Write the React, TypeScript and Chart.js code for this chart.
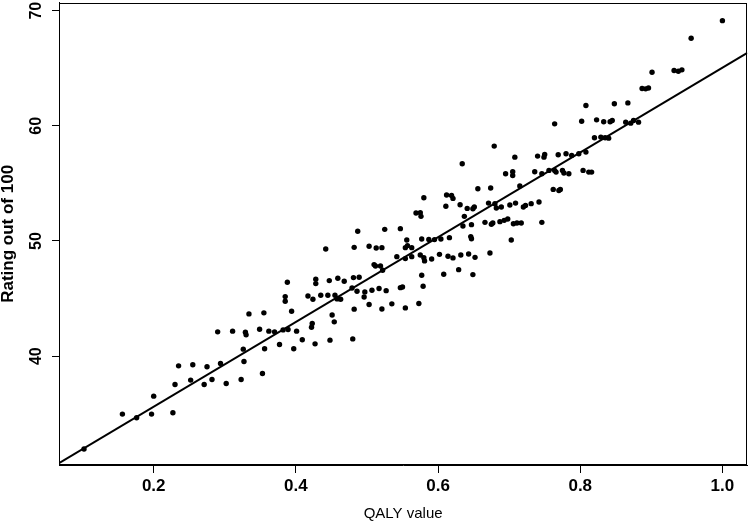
import React, { useEffect, useRef } from "react";
import { Chart, registerables } from "chart.js";

Chart.register(...registerables);

// QALY value (x) for each respondent
const qalyValues: number[] = [
  0.102, 0.156, 0.176, 0.197, 0.200, 0.227, 0.230, 0.235, 0.252, 0.255,
  0.271, 0.275, 0.282, 0.290, 0.294, 0.302, 0.311, 0.323, 0.326, 0.327,
  0.329, 0.330, 0.334, 0.349, 0.353, 0.355, 0.356, 0.362, 0.370, 0.377,
  0.382, 0.385, 0.385, 0.388, 0.389, 0.394, 0.397, 0.401, 0.409, 0.417,
  0.422, 0.423, 0.424, 0.427, 0.428, 0.428, 0.435, 0.442, 0.445, 0.447,
  0.448, 0.451, 0.454, 0.455, 0.458, 0.459, 0.463, 0.468, 0.479, 0.480,
  0.481, 0.482, 0.482, 0.486, 0.487, 0.489, 0.496, 0.497, 0.503, 0.503,
  0.507, 0.510, 0.512, 0.513, 0.517, 0.519, 0.521, 0.521, 0.522, 0.525,
  0.527, 0.535, 0.542, 0.547, 0.547, 0.550, 0.554, 0.554, 0.554, 0.556,
  0.557, 0.563, 0.563, 0.569, 0.573, 0.575, 0.575, 0.576, 0.577, 0.577,
  0.579, 0.580, 0.580, 0.581, 0.587, 0.591, 0.595, 0.602, 0.604, 0.608,
  0.611, 0.612, 0.614, 0.616, 0.619, 0.621, 0.621, 0.629, 0.631, 0.632,
  0.634, 0.635, 0.637, 0.641, 0.643, 0.646, 0.647, 0.647, 0.649, 0.649,
  0.651, 0.652, 0.656, 0.666, 0.671, 0.673, 0.674, 0.675, 0.677, 0.679,
  0.680, 0.682, 0.687, 0.689, 0.693, 0.695, 0.698, 0.701, 0.703, 0.705,
  0.705, 0.706, 0.708, 0.709, 0.711, 0.715, 0.717, 0.720, 0.723, 0.731,
  0.736, 0.740, 0.742, 0.746, 0.746, 0.749, 0.750, 0.756, 0.762, 0.764,
  0.764, 0.766, 0.769, 0.770, 0.772, 0.775, 0.777, 0.780, 0.784, 0.788,
  0.798, 0.802, 0.804, 0.808, 0.808, 0.812, 0.816, 0.820, 0.823, 0.829,
  0.833, 0.835, 0.840, 0.842, 0.845, 0.848, 0.864, 0.867, 0.871, 0.875,
  0.882, 0.887, 0.892, 0.896, 0.901, 0.932, 0.938, 0.943, 0.956, 1.000,
];

// Rating out of 100 (y) for each respondent
const ratings: number[] = [
  31.94, 34.97, 34.65, 34.97, 36.53, 35.09, 37.54, 39.16, 37.92, 39.25,
  37.54, 39.08, 37.98, 42.11, 39.36, 37.63, 42.17, 37.98, 40.61, 39.54,
  42.08, 41.85, 43.67, 42.34, 38.50, 43.76, 40.64, 42.17, 42.11, 41.01,
  42.28, 44.77, 45.17, 46.42, 42.31, 43.90, 40.64, 42.17, 41.42, 45.23,
  42.51, 42.83, 44.94, 41.07, 46.30, 46.68, 45.29, 49.31, 45.29, 46.56,
  41.39, 43.58, 42.98, 45.29, 44.97, 46.76, 44.94, 46.50, 45.92, 41.50,
  46.82, 49.45, 44.08, 45.64, 50.84, 46.85, 45.14, 45.58, 49.54, 44.48,
  45.72, 47.95, 47.83, 49.39, 45.87, 47.83, 49.42, 44.10, 47.46, 51.01,
  45.69, 44.54, 48.64, 51.07, 45.95, 46.01, 44.19, 48.47, 49.42, 50.09,
  49.60, 49.42, 48.64, 52.43, 44.57, 48.79, 52.46, 52.14, 50.17, 47.02,
  46.07, 53.76, 48.55, 48.27, 50.14, 48.44, 50.12, 48.84, 50.17, 47.11,
  53.01, 53.99, 48.67, 50.29, 53.96, 53.70, 48.53, 47.51, 53.15, 48.79,
  56.71, 51.30, 52.14, 52.83, 48.87, 50.38, 51.42, 50.20, 47.08, 52.80,
  52.95, 48.58, 54.54, 51.62, 53.29, 48.96, 54.60, 51.45, 51.56, 58.24,
  53.24, 52.86, 51.68, 52.95, 51.79, 55.84, 51.91, 53.12, 50.09, 55.69,
  56.01, 51.50, 57.28, 53.29, 51.56, 54.77, 51.56, 52.95, 53.09, 53.24,
  56.01, 57.37, 53.38, 55.84, 51.62, 57.28, 57.51, 56.13, 54.48, 60.17,
  56.13, 55.98, 57.49, 54.39, 54.48, 56.13, 55.90, 57.57, 55.84, 57.43,
  57.57, 60.40, 56.13, 61.76, 57.72, 55.98, 55.98, 58.96, 60.52, 59.02,
  60.35, 58.96, 58.93, 60.35, 60.46, 61.91, 60.32, 61.99, 60.23, 60.46,
  60.32, 63.24, 63.21, 63.29, 64.65, 64.80, 64.74, 64.86, 67.60, 69.13,
];

// fitted regression line: rating = intercept + slope * QALY
const fitIntercept = 28.25;
const fitSlope = 36.8;

// axis ranges and tick labels
const xRange: [number, number] = [0.0668, 1.035];
const yRange: [number, number] = [30.55, 70.69];
const xTicks: number[] = [0.2, 0.4, 0.6, 0.8, 1.0];
const yTicks: number[] = [40, 50, 60, 70];

const xTitle = "QALY value";
const yTitle = "Rating out of 100";

const FONT = "'Liberation Sans', Arial, sans-serif";

export default function App() {
  const canvasRef = useRef<HTMLCanvasElement | null>(null);

  useEffect(() => {
    document.body.style.margin = "0";
    const canvas = canvasRef.current;
    if (!canvas) return;

    const points = qalyValues.map((x, i) => ({ x, y: ratings[i] }));
    const fitLine = xRange.map((x) => ({ x, y: fitIntercept + fitSlope * x }));

    const boxPlugin = {
      id: "boxPlugin",
      beforeDraw(chart: any) {
        const { ctx, width, height } = chart;
        ctx.save();
        ctx.fillStyle = "#ffffff";
        ctx.fillRect(0, 0, width, height);
        ctx.restore();
      },
      afterDraw(chart: any) {
        const { ctx, chartArea } = chart;
        const l = Math.round(chartArea.left) + 0.5;
        const r = Math.round(chartArea.right) - 0.5;
        const t = Math.round(chartArea.top) + 0.5;
        const b = Math.round(chartArea.bottom) - 0.5;
        ctx.save();
        ctx.strokeStyle = "#000000";
        ctx.lineWidth = 1;
        ctx.strokeRect(l, t, r - l, b - t);
        ctx.restore();
      },
    };

    const chart = new Chart(canvas, {
      type: "scatter",
      data: {
        datasets: [
          {
            label: "ratings",
            data: points,
            backgroundColor: "#000000",
            borderWidth: 0,
            pointRadius: 2.7,
            pointHoverRadius: 2.7,
          },
          {
            label: "fit",
            type: "line",
            data: fitLine,
            borderColor: "#000000",
            borderWidth: 2,
            pointRadius: 0,
            showLine: true,
            fill: false,
          } as any,
        ],
      },
      options: {
        responsive: false,
        animation: false,
        events: [],
        layout: { padding: { top: 2, right: 2, left: 0, bottom: 0 } },
        plugins: {
          legend: { display: false },
          tooltip: { enabled: false },
        },
        scales: {
          x: {
            type: "linear",
            min: xRange[0],
            max: xRange[1],
            afterBuildTicks: (s: any) => {
              s.ticks = xTicks.map((v) => ({ value: v }));
            },
            afterFit: (s: any) => {
              s.height = 58;
              s.paddingLeft = 0;
              s.paddingRight = 0;
            },
            ticks: {
              color: "#000000",
              font: { family: FONT, size: 17, weight: "bold" },
              padding: 3,
              callback: (v: any) => Number(v).toFixed(1),
            },
            grid: {
              display: true,
              drawOnChartArea: false,
              drawTicks: true,
              tickLength: 8,
              color: "#000000",
              lineWidth: 1,
            },
            border: { display: true, color: "#000000", width: 1 },
            title: {
              display: true,
              text: xTitle,
              color: "#000000",
              font: { family: FONT, size: 15, weight: "normal", lineHeight: 1.2 },
              padding: { top: 0, bottom: 0 },
            },
          },
          y: {
            type: "linear",
            min: yRange[0],
            max: yRange[1],
            afterBuildTicks: (s: any) => {
              s.ticks = yTicks.map((v) => ({ value: v }));
            },
            afterFit: (s: any) => {
              s.width = 59;
              s.paddingTop = 0;
              s.paddingBottom = 0;
            },
            ticks: {
              color: "#000000",
              font: { family: FONT, size: 16, weight: "bold" },
              padding: 7,
              minRotation: 90,
              maxRotation: 90,
              crossAlign: "center",
              callback: (v: any) => String(v),
            },
            grid: {
              display: true,
              drawOnChartArea: false,
              drawTicks: true,
              tickLength: 7,
              color: "#000000",
              lineWidth: 1,
            },
            border: { display: true, color: "#000000", width: 1 },
            title: {
              display: true,
              text: yTitle,
              color: "#000000",
              font: { family: FONT, size: 17, weight: "bold", lineHeight: 1.0 },
              padding: { top: 0, bottom: 0 },
            },
          },
        },
      },
      plugins: [boxPlugin],
    });

    return () => chart.destroy();
  }, []);

  return (
    <div style={{ position: "fixed", left: 0, top: 0, width: 750, height: 523 }}>
      <canvas ref={canvasRef} width={750} height={523} />
    </div>
  );
}
